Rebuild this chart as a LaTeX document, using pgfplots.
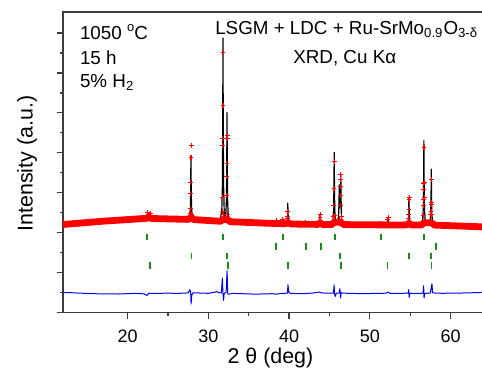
\documentclass[border=0pt]{standalone}
\usepackage{pgfplots}
\pgfplotsset{compat=1.18}
\usepackage{fontspec}
\setmainfont{Liberation Sans}
\definecolor{obsred}{RGB}{255,0,0}
\definecolor{tickgreen}{RGB}{25,140,25}
\definecolor{diffblue}{RGB}{0,0,255}
\definecolor{axgray}{RGB}{60,60,60}
\begin{document}
\begin{tikzpicture}
\useasboundingbox (-31.55pt,-28.15pt) rectangle (209.45pt,156.35pt);
\begin{axis}[
  scale only axis, width=209.85pt, height=150.35pt,
  xmin=12, xmax=64, ymin=0, ymax=301,
  xtick={20,30,40,50,60}, minor x tick num=1,
  ytick={0,40,...,280}, minor y tick num=1, yticklabels={},
  tick pos=left, tick align=outside,
  major tick length=3pt, minor tick length=1.7pt,
  every tick/.style={axgray, line width=0.6pt},
  axis line style={axgray, line width=0.8pt},
  /pgf/number format/assume math mode=true,
  xticklabel style={font=\fontsize{9}{10.8}\selectfont, anchor=base, inner sep=0pt, yshift=-12pt},
  xlabel={2 θ (deg)}, ylabel={Intensity (a.u.)},
  xlabel style={font=\fontsize{10.7}{12.8}\selectfont, at={(axis description cs:0.494,-0.1683)}, anchor=base, inner sep=0pt},
  ylabel style={font=\fontsize{10.7}{12.8}\selectfont, at={(axis description cs:-0.0724,0.496)}, anchor=base, inner sep=0pt},
  clip=false,
]
% Bragg positions (short vertical bars)
\addplot[tickgreen, line width=0.9pt, unbounded coords=jump] coordinates {
(22.4,72.5)(22.4,78.9)(22.4,nan)(31.85,72.5)(31.85,78.9)(31.85,nan)(39.25,72.5)(39.25,78.9)(39.25,nan)(45.65,72.5)(45.65,78.9)(45.65,nan)(51.4,72.5)(51.4,78.9)(51.4,nan)(56.7,72.5)(56.7,78.9)(56.7,nan)
(38.36,63.1)(38.36,69.5)(38.36,nan)(42.06,63.1)(42.06,69.5)(42.06,nan)(43.95,63.1)(43.95,69.5)(43.95,nan)(58.19,63.1)(58.19,69.5)(58.19,nan)
(27.9,53.8)(27.9,60.2)(27.9,nan)(32.35,53.8)(32.35,60.2)(32.35,nan)(46.33,53.8)(46.33,60.2)(46.33,nan)(54.9,53.8)(54.9,60.2)(54.9,nan)(57.57,53.8)(57.57,60.2)(57.57,nan)
(22.8,44.1)(22.8,50.5)(22.8,nan)(32.43,44.1)(32.43,50.5)(32.43,nan)(39.9,44.1)(39.9,50.5)(39.9,nan)(46.43,44.1)(46.43,50.5)(46.43,nan)(52.2,44.1)(52.2,50.5)(52.2,nan)(57.64,44.1)(57.64,50.5)};
% difference curve
\addplot[diffblue, line width=0.5pt, line join=round] coordinates {
(12,20.3)(13,20)(14,19.6)(15,19.3)(16,19)(17,18.8)(18,18.9)(19,18.7)(20,19.1)(21,19.3)(22,18.9)(22.4,17.2)(22.6,19.5)(23,19.2)(24,19.4)(25,19.6)(26,19.3)(27,19.6)(27.5,19.8)(27.7,23)(27.8,21)(27.86,8.7)(27.95,18)(28.1,19.8)(29,19.7)(30,19.4)(30.8,20.5)(31,21.3)(31.3,20)(31.6,19.8)(31.74,34.7)(31.8,20)(31.88,12.3)(31.95,19)(32.1,20)(32.2,20.5)(32.32,42)(32.4,19)(32.5,18.5)(33,19.3)(34,19.1)(35,18.8)(36,18.6)(37,18.9)(38,19)(38.4,18.5)(39,19.3)(39.8,19.5)(39.86,28)(39.95,21)(40.1,19.5)(41,19.1)(42,19.2)(43,19.7)(43.7,20.7)(44,19.8)(45,19.5)(45.5,19.5)(45.58,28)(45.63,19)(45.72,16.3)(45.85,19.5)(46.2,19.5)(46.3,24)(46.38,14.7)(46.45,20)(46.6,19.7)(47,19.5)(48,19.3)(49,19)(50,19.2)(51,19.4)(52,19.5)(52.26,20.6)(52.5,19.4)(53,19.3)(54,19.4)(54.75,19.6)(54.82,23)(54.88,15.3)(54.95,19.5)(55.5,19.2)(56,19.3)(56.6,19.5)(56.67,27)(56.72,14.7)(56.8,19.2)(57,19.4)(57.5,19.6)(57.7,29)(57.78,20)(58,19.7)(59,19.4)(60,19.6)(61,19.5)(62,19.9)(63,20)(64,20.3)};
% calculated curve
\addplot[black, line width=0.6pt, line join=round] coordinates {
(12,88.3)(16.8,91.5)(22,94.3)
(22.27,94.2)(22.42,95.9)(22.47,100)(22.52,95.9)(22.62,94.5)(22.75,95.6)(22.8,99)(22.85,95.6)(23.0,94.1)
(27.49,94.3)(27.69,97.1)(27.77,105.8)(27.81,127.8)(27.84,156)(27.87,127.8)(27.91,105.8)(27.99,97.1)(28.19,94.2)
(31.46,92.4)(31.66,102.3)(31.74,128)(31.78,192.3)(31.81,275)(31.84,192.3)(31.88,128)(31.96,102.3)(32.06,96)(32.16,97.7)(32.24,112.9)(32.28,151.2)(32.31,200.3)(32.34,151.2)(32.38,112.9)(32.46,97.7)(32.66,92.1)
(36.8,89.7)
(38.2,89.3)(38.35,90.4)(38.4,93)(38.45,90.4)(38.6,89.2)
(39.02,89.1)(39.17,90.6)(39.22,94)(39.27,90.6)
(39.49,89.9)(39.69,90.1)(39.77,93.1)(39.81,100.3)(39.84,109.7)(39.87,100.3)(39.91,93.1)(39.99,90.1)(40.19,89.9)
(40.9,88.7)
(41.8,88.6)(41.95,89.6)(42.0,92)(42.05,89.6)(42.2,88.6)
(43.66,88.4)(43.81,91.3)(43.86,98)(43.91,91.3)(44.06,88.4)
(45.24,89.3)(45.44,92.6)(45.52,102.7)(45.56,128)(45.59,160.5)(45.62,128)(45.66,102.7)(45.74,92.6)(45.9,90)(46.07,92)(46.15,100)(46.19,113)(46.22,128)(46.26,112)(46.30,105)(46.35,115.6)(46.41,138)(46.44,115.6)(46.48,98.2)(46.56,91.2)(46.76,89.2)
(49.1,88)
(51.16,88)(51.31,89)(51.36,91)(51.41,89)(51.56,88)
(52.06,87.9)(52.21,89.7)(52.26,94)(52.31,89.7)(52.46,87.9)
(54.5,88.8)(54.7,89.5)(54.78,93.4)(54.82,103.1)(54.85,115.7)(54.88,103.1)(54.92,93.4)(55.0,89.5)(55.2,88.8)
(56.35,88.7)(56.55,92.8)(56.63,104.6)(56.67,134.2)(56.70,172.3)(56.73,134.2)(56.77,104.6)(56.85,92.8)(57.1,90)(57.32,90.5)(57.47,91.1)(57.55,98.9)(57.59,118.5)(57.62,143.7)(57.65,118.5)(57.69,98.9)(57.77,91.1)(57.97,88.7)
(63.7,86)(64,85.8)};
% observed: dense band
\addplot[obsred, line width=3.4pt, line join=round, line cap=butt] coordinates {
(12,88.3)(16.8,91.5)(22,94.3)(22.3,94.4)(22.6,95.8)(22.95,94.3)(27.5,93.4)(27.84,95.5)(28.2,93.2)(31.5,91.5)(31.85,93.5)(32.35,93.3)(32.7,91.1)(36.8,89.7)(39.5,89)(39.84,90.3)(40.2,88.9)(40.9,88.7)(43.6,88.4)(43.86,90)(44.1,88.4)(45.3,88.3)(45.6,90.5)(46.4,90.5)(46.8,88.2)(49.1,88)(54.5,87.8)(54.85,89.6)(55.2,87.8)(56.4,87.7)(56.7,90)(57.65,90)(58,87.7)(63.7,86)(64,85.8)};
% observed: individual points on peaks (drawn as crosses)
\addplot[draw=none, mark=none,
  error bars/x dir=both, error bars/x fixed=0.3,
  error bars/y dir=both, error bars/y fixed=2.5,
  error bars/error mark=none,
  error bars/error bar style={draw=obsred, line width=0.55pt, solid}] coordinates {
(22.42,96.3)(22.47,100.7)(22.52,98)(22.75,97)(22.82,99.5)
(27.78,99.7)(27.8,104.7)(27.82,119)(27.83,130.7)(27.85,155.7)(27.86,167.3)(27.9,98)
(31.74,101.3)(31.76,115)(31.79,167)(31.8,174)(31.81,207)(31.82,260.3)(31.88,98)
(32.26,117)(32.28,136.3)(32.3,149.7)(32.32,174.7)(32.33,177)(32.4,98.5)
(38.4,92)(39.2,93)(39.8,94.7)(39.82,96.3)(39.85,101.3)
(43.83,95)(43.87,98)
(45.53,96.3)(45.55,107)(45.57,124.7)(45.6,151.3)(45.65,97)
(46.3,93.7)(46.33,107)(46.36,117)(46.38,126.3)(46.4,133)(46.42,138)(46.45,96)
(52.24,93)(52.28,95)
(54.82,94.3)(54.83,98)(54.85,103.7)(54.86,113)(54.87,115.7)
(56.65,97)(56.67,107)(56.68,113)(56.69,123.7)(56.7,129.7)(56.72,165.3)(56.75,130)(56.77,115)
(57.55,98)(57.58,101.3)(57.6,110.3)(57.64,133)(57.66,108)(57.7,98)};
% annotations
\node[anchor=base west, inner sep=0pt, font=\fontsize{9.4}{11}\selectfont] at (axis cs:14.05,273.7) {1050 {\fontsize{6.5}{6.5}\selectfont\raisebox{0.6em}{o}}C};
\node[anchor=base west, inner sep=0pt, font=\fontsize{9.4}{11}\selectfont] at (axis cs:14.05,248.7) {15 h};
\node[anchor=base west, inner sep=0pt, font=\fontsize{9.4}{11}\selectfont] at (axis cs:14.05,225.7) {5\% H\textsubscript{2}};
\node[anchor=base, inner sep=0pt, font=\fontsize{9.4}{11}\selectfont] at (axis cs:47.14,278.7) {LSGM + LDC + Ru-SrMo\textsubscript{0.9}O\textsubscript{3-δ}};
\node[anchor=base, inner sep=0pt, font=\fontsize{9.4}{11}\selectfont] at (axis cs:46.9,249) {XRD, Cu Kα};
\end{axis}
\end{tikzpicture}
\end{document}
